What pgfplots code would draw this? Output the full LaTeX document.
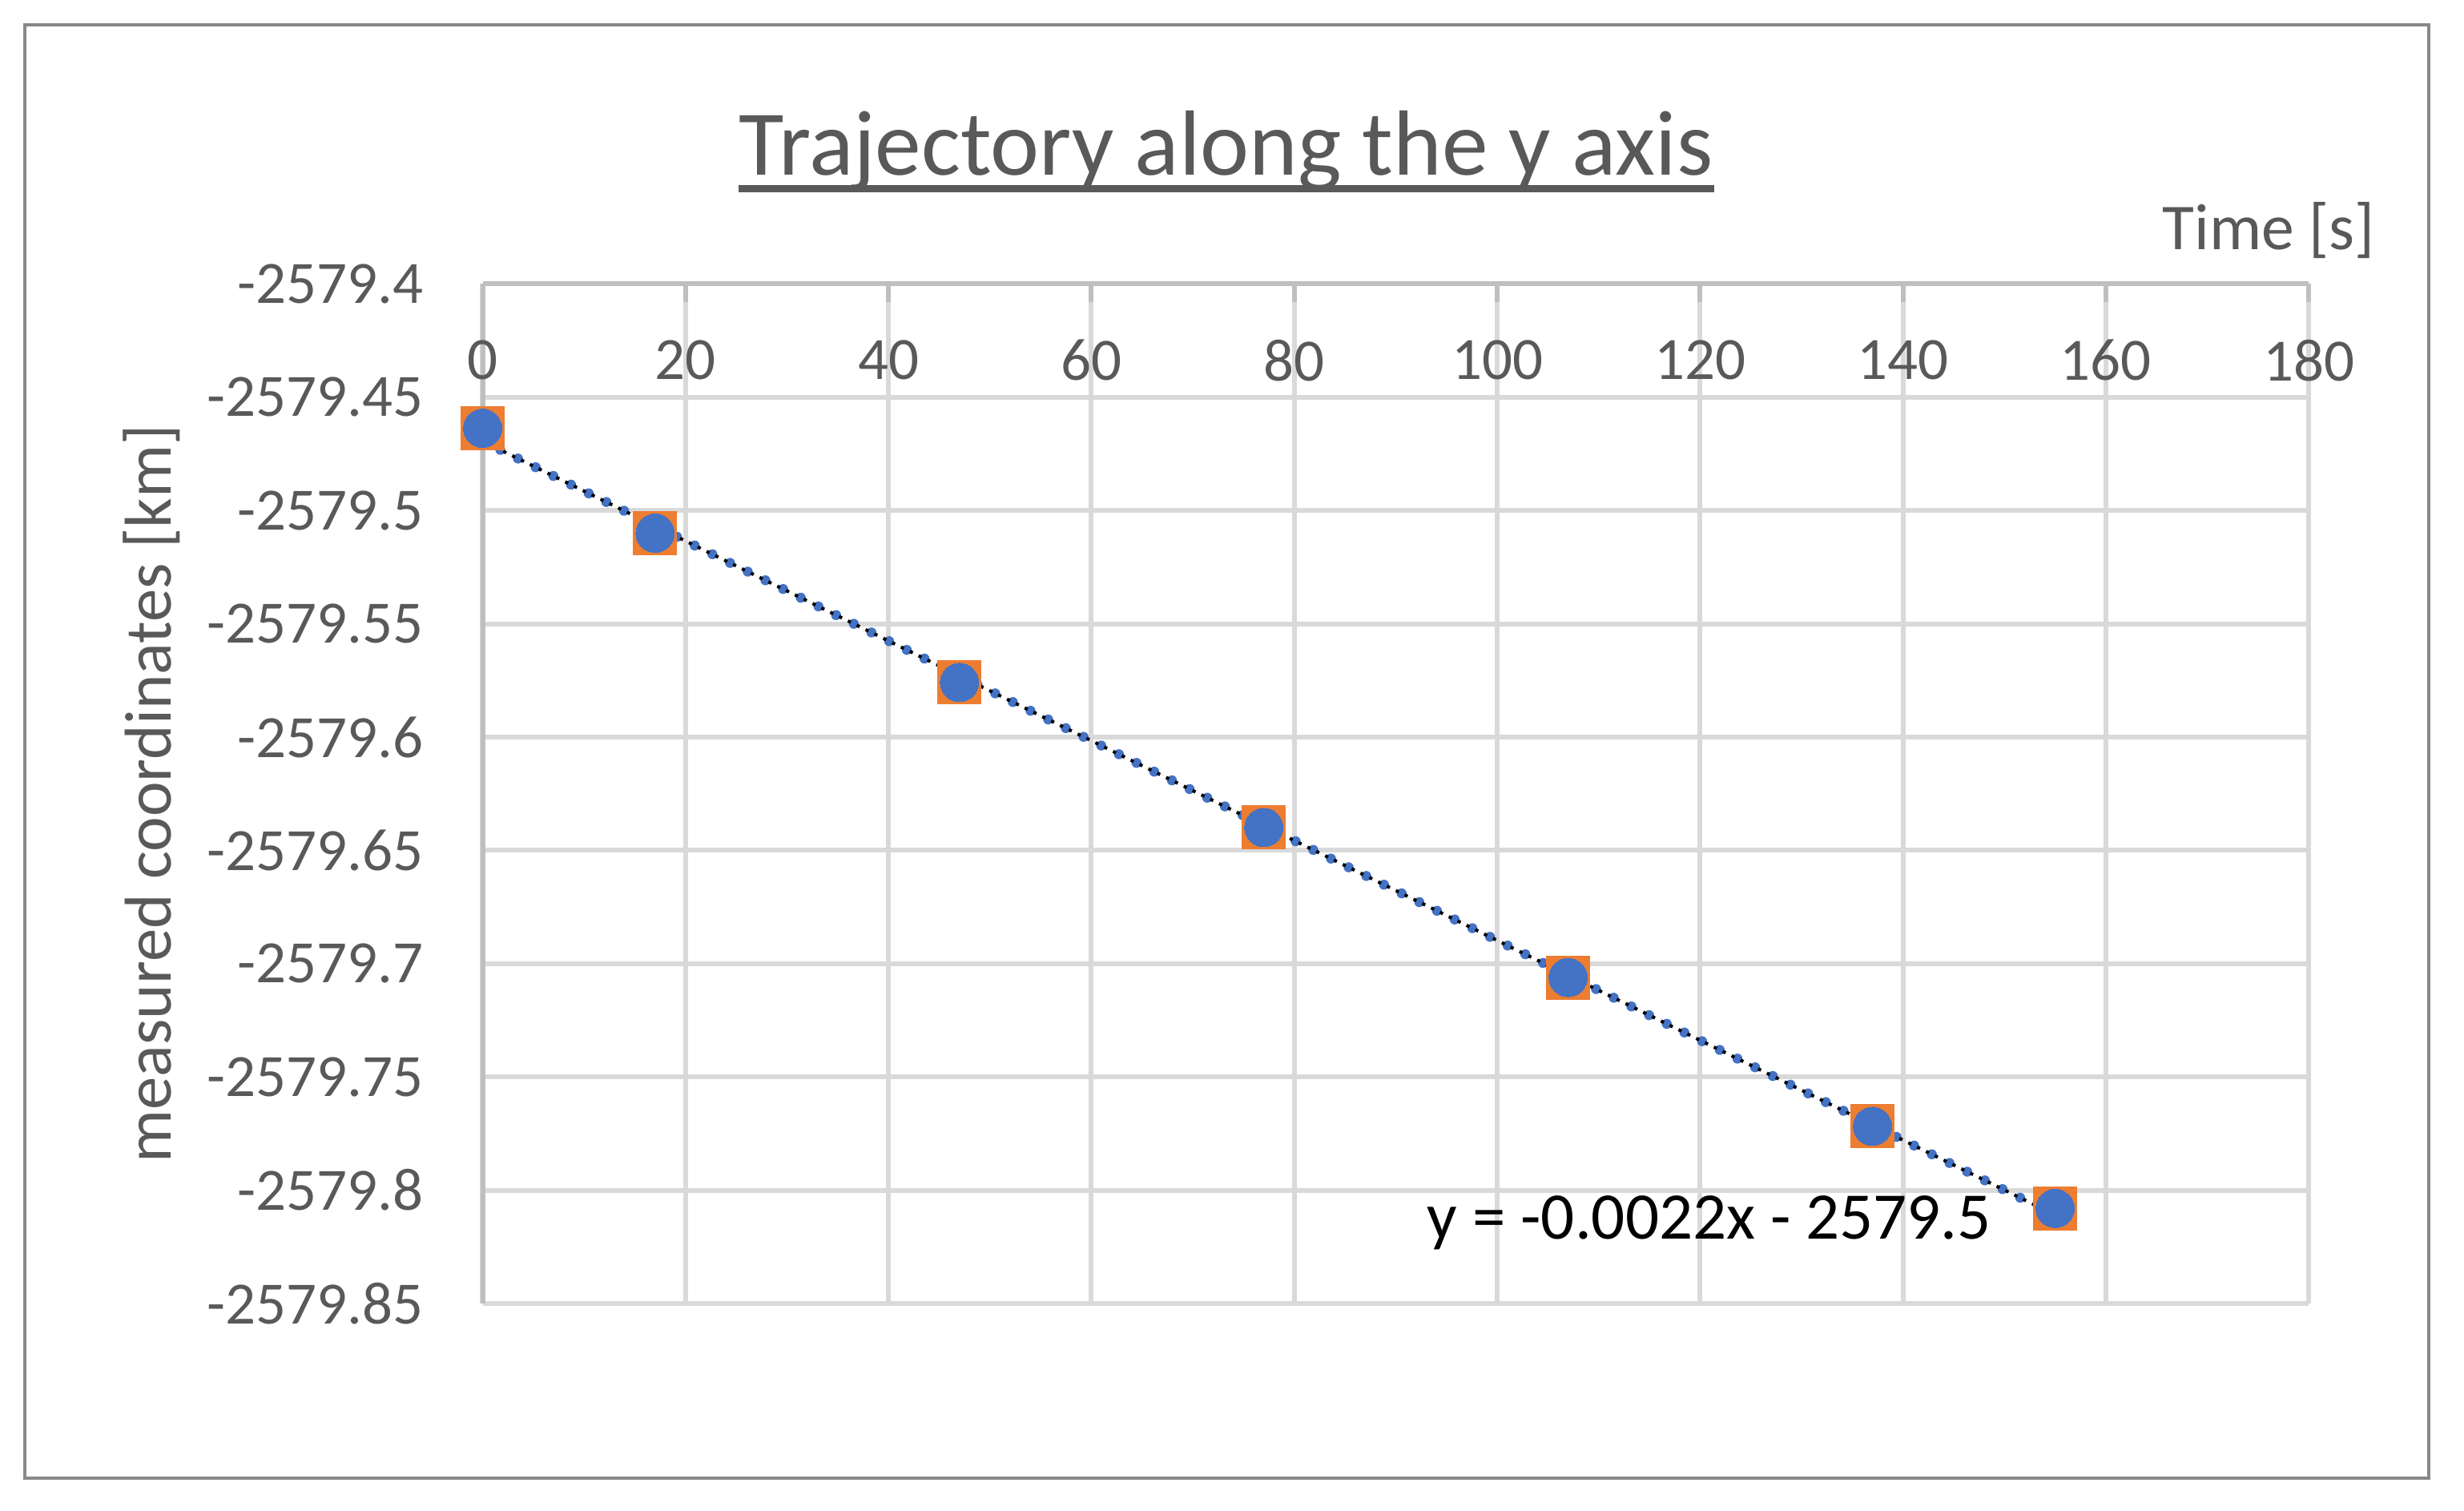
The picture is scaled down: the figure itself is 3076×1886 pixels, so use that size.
\documentclass[border=0pt]{standalone}
\usepackage{fontspec}
\setmainfont{Carlito}
\usepackage{pgfplots}
\usepackage{pgfplotstable}
\pgfplotsset{compat=1.18}
\definecolor{txt}{HTML}{595959}
\definecolor{gridc}{HTML}{D9D9D9}
\definecolor{axc}{HTML}{BFBFBF}
\definecolor{sblue}{HTML}{4472C4}
\definecolor{sorange}{HTML}{ED7D31}
\definecolor{framec}{HTML}{898989}
% y values all lie in -2579.xxx: map them to -0.xxx by splitting the string,
% which avoids TeX's limited floating point precision
\makeatletter
\def\ytrafo@#1.#2.#3\relax{\edef\pgfmathresult{-0.#2}}
\newcommand\ytrafo[1]{\edef\ytrafo@tmp{#1}\expandafter\ytrafo@\ytrafo@tmp..\relax}
\makeatother
\pgfplotstableread{
t y
0 -2579.4637
17 -2579.5100
47 -2579.5759
77 -2579.6399
107 -2579.7061
137 -2579.7718
155 -2579.8080
}\datatab
% Excel linear trendline, endpoints
\pgfplotstableread{
t y
0 -2579.4694
155 -2579.8109
}\trendtab
\begin{document}
\begin{tikzpicture}[x=0.0052016cm,y=0.0052016cm]
\useasboundingbox (0,0) rectangle (3076,1886);
\fill[white] (0,0) rectangle (3076,1886);
\draw[framec, line width=0.7pt] (31,41) rectangle (3032,1855);
\begin{axis}[
  at={(3.1350cm,1.3472cm)}, anchor=south west,
  width=11.861cm, height=6.622cm, scale only axis,
  xmin=0, xmax=180, ymin=-2579.85, ymax=-2579.4,
  y coord trafo/.code={\ytrafo{#1}},
  axis x line*=top, axis y line*=left,
  axis line style={draw=axc, line width=0.89pt},
  xtick={0,20,40,60,80,100,120,140,160,180},
  ytick={-2579.4,-2579.45,-2579.5,-2579.55,-2579.6,-2579.65,-2579.7,-2579.75,-2579.8,-2579.85},
  yticklabels={-2579.4,-2579.45,-2579.5,-2579.55,-2579.6,-2579.65,-2579.7,-2579.75,-2579.8,-2579.85},
  scaled y ticks=false,
  /pgf/number format/assume math mode=true,
  tick align=inside,
  major tick length=0.1196cm,
  xtick style={draw=axc, line width=0.89pt},
  ytick style={draw=none},
  grid=major,
  major grid style={draw=gridc, line width=0.9pt},
  tick label style={font=\fontsize{11.1}{13}\selectfont, text=txt},
  xticklabel style={anchor=center, inner sep=0pt, yshift=-0.4967cm},
  yticklabel style={anchor=east, inner sep=0pt, xshift=-0.378cm},
  xlabel={Time [s]},
  ylabel={measured coordinates [km]},
  every axis x label/.style={at={(axis description cs:1.03683,1.0340)}, anchor=base east, inner sep=0pt, font=\fontsize{12.1}{14}\selectfont, text=txt},
  every axis y label/.style={at={(axis description cs:-0.17046,0.5)}, rotate=90, anchor=base, inner sep=0pt, font=\fontsize{12.25}{14}\selectfont, text=txt},
  title={Trajectory along the y axis},
  every axis title/.style={at={(axis description cs:0.4071,1.1066)}, anchor=base, inner sep=0pt, font=\fontsize{17.1}{20}\selectfont, text=txt, name=ttl},
  clip=false,
]
\addplot[only marks, color=sorange, mark=square*, mark size=4.0pt, mark options={solid, fill=sorange, draw=sorange, line width=0pt}] table[x=t, y=y] {\datatab};
\addplot[only marks, color=sblue, mark=*, mark size=3.55pt, mark options={solid, fill=sblue, draw=sblue, line width=0pt}] table[x=t, y=y] {\datatab};
\addplot[sblue, line width=1.85pt, line cap=round, dash pattern=on 0pt off 3.64pt, no markers] table[x=t, y=y] {\trendtab};
\addplot[black, line width=0.6pt, dash pattern=on 0.6pt off 1.22pt, dash phase=1.2pt, no markers] table[x=t, y=y] {\trendtab};
\node[anchor=base east, inner sep=0pt, font=\fontsize{12.3}{14}\selectfont, text=black]
  at (axis description cs:0.82678,0.06308) {y = -0.0022x - 2579.5};
\end{axis}
\draw[txt, line width=1.33pt] ([yshift=-2.55pt]ttl.base west) -- ([yshift=-2.55pt]ttl.base east);
\end{tikzpicture}
\end{document}
